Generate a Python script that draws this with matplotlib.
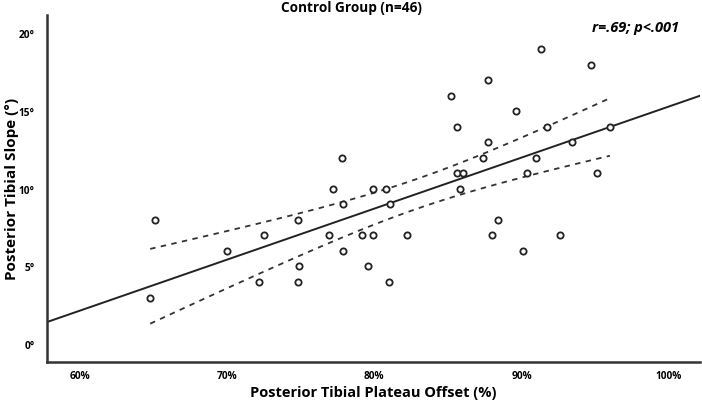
import numpy as np
import matplotlib
matplotlib.use('Agg')
import matplotlib.pyplot as plt

# posterior tibial plateau offset (%) and posterior tibial slope (deg)
offset = [64.8, 65.1, 70.0, 72.5, 72.2, 74.8, 74.9, 74.8, 76.9, 77.2,
          77.8, 77.9, 77.9, 79.9, 80.8, 81.1, 79.2, 79.9, 82.2, 79.6,
          81.0, 85.2, 87.7, 91.3, 94.7, 85.6, 89.6, 91.7, 96.0, 87.7,
          93.4, 87.4, 91.0, 85.6, 86.0, 90.4, 95.1, 85.8, 88.4, 88.0,
          92.6, 90.1]
slope = [3, 8, 6, 7, 4, 8, 5, 4, 7, 10,
         12, 9, 6, 10, 10, 9, 7, 7, 7, 5,
         4, 16, 17, 19, 18, 14, 15, 14, 14, 13,
         13, 12, 12, 11, 11, 11, 11, 10, 8, 7,
         7, 6]
n_total = 46
xticks = [60, 70, 80, 90, 100]
yticks = [0, 5, 10, 15, 20]

x = np.array(offset)
y = np.array(slope)

# linear fit and 95% CI of mean
b, a = np.polyfit(x, y, 1)
n = len(x)
resid = y - (a + b * x)
s = np.sqrt(np.sum(resid ** 2) / (n - 2))
sxx = np.sum((x - x.mean()) ** 2)
t = 2.015

plt.rcParams['font.family'] = ['Open Sans', 'DejaVu Sans']

fig = plt.figure(figsize=(7.02, 4.06), dpi=100)
ax = fig.add_axes([0.067, 0.106, 0.93, 0.855])

xlim = (57.8, 102.1)
xl = np.linspace(xlim[0], xlim[1], 100)
ax.plot(xl, a + b * xl, color='#222222', lw=1.4)

xc = np.linspace(x.min(), x.max(), 100)
half = t * s * np.sqrt(1 / n + (xc - x.mean()) ** 2 / sxx)
ax.plot(xc, a + b * xc + half, color='#333333', lw=1.3, ls=(0, (3, 3)))
ax.plot(xc, a + b * xc - half, color='#333333', lw=1.3, ls=(0, (3, 3)))

ax.plot(x, y, 'o', mfc='white', mec='#222222', mew=1.3, ms=4.5, ls='none')

ax.set_xlim(*xlim)
ax.set_ylim(-1.15, 21.2)
ax.set_xticks(xticks)
ax.set_xticklabels([f'{v}%' for v in xticks])
ax.set_yticks(yticks)
ax.set_yticklabels([f'{v}°' for v in yticks])
ax.tick_params(length=0, labelsize=7.3)
ax.tick_params(axis='x', pad=6)
ax.tick_params(axis='y', pad=9)
for lab in ax.get_xticklabels() + ax.get_yticklabels():
    lab.set_fontweight('bold')

for side in ['top', 'right']:
    ax.spines[side].set_visible(False)
for side in ['left', 'bottom']:
    ax.spines[side].set_color('#333333')
    ax.spines[side].set_linewidth(1.8)

fig.text(0.5, 1 - 8 / 406, f'Control Group (n={n_total})', fontsize=9.8, fontweight='bold',
         ha='center', va='center')
ax.set_xlabel('Posterior Tibial Plateau Offset (%)', fontsize=10.5, fontweight='bold')
ax.xaxis.set_label_coords(0.5, -0.086)
ax.xaxis.label.set_va('center')
ax.set_ylabel('Posterior Tibial Slope (°)', fontsize=11, fontweight='bold')
ax.yaxis.set_label_coords(-0.054, 0.5)
ax.yaxis.label.set_va('center')
ax.text(0.968, 0.965, 'r=.69; p<.001', transform=ax.transAxes, ha='right', va='center',
        fontsize=10.5, fontweight='bold', style='italic')

fig.savefig('out.png', dpi=100)
